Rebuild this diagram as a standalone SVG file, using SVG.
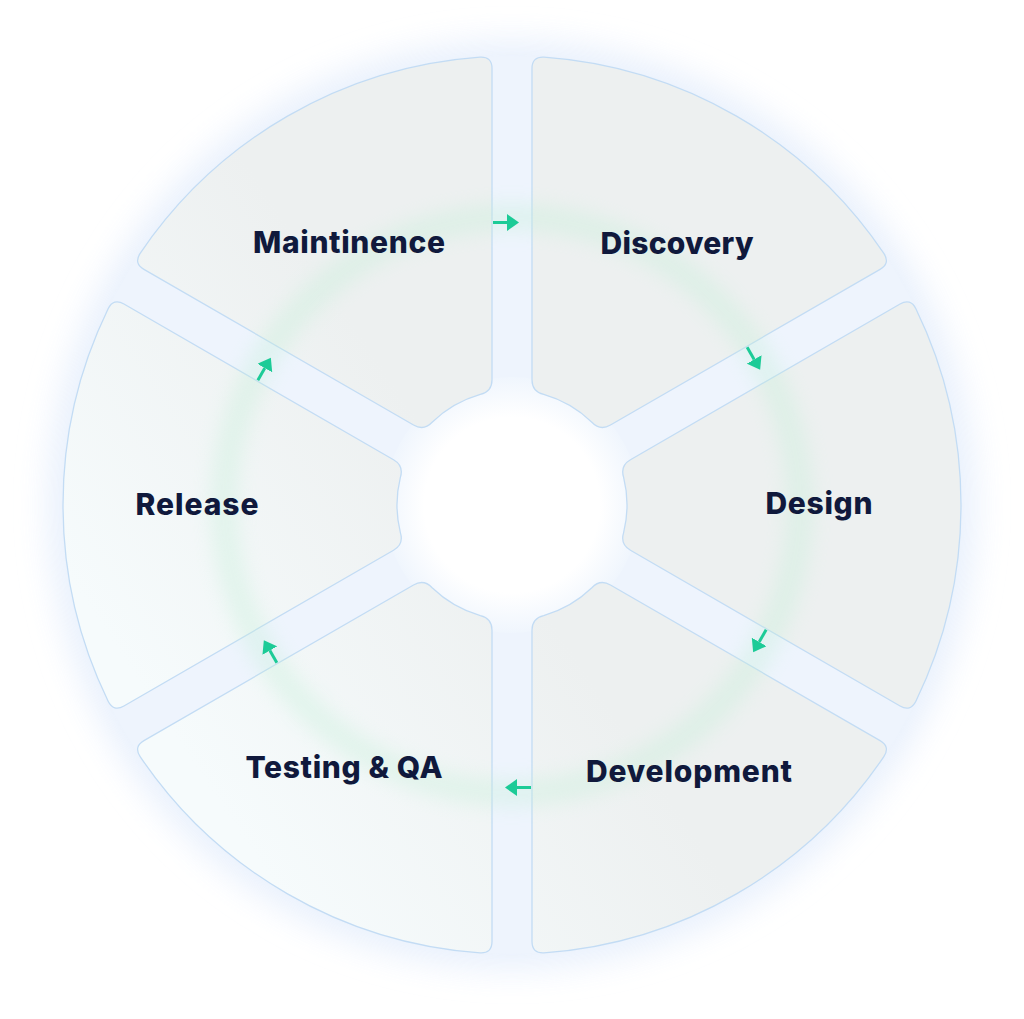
<svg xmlns="http://www.w3.org/2000/svg" width="1024" height="1019" viewBox="0 0 1024 1019">
<style>
.seg{fill:url(#segfill);stroke:#c3dcf4;stroke-width:1.3}
.lbl{font-family:Inter,"Liberation Sans",Arial,sans-serif;font-weight:800;font-size:30px;fill:#10193c;text-anchor:middle}
.arr{stroke:#1ccb97;stroke-width:3;fill:none;marker-end:url(#head)}
</style>
<defs>
<filter id="blur16" x="-20%" y="-20%" width="140%" height="140%"><feGaussianBlur stdDeviation="16"/></filter>
<filter id="blur10" x="-20%" y="-20%" width="140%" height="140%"><feGaussianBlur stdDeviation="10"/></filter>
<linearGradient id="segfill" gradientUnits="userSpaceOnUse" x1="600" y1="400" x2="150" y2="700">
<stop offset="0" stop-color="#edf0f0"/>
<stop offset="0.3" stop-color="#edf0f0"/>
<stop offset="1" stop-color="#f6fbfc"/>
</linearGradient>
<radialGradient id="hole" cx="512" cy="505" r="135" gradientUnits="userSpaceOnUse">
<stop offset="0" stop-color="#ffffff"/>
<stop offset="0.65" stop-color="#ffffff"/>
<stop offset="1" stop-color="#edf4fd"/>
</radialGradient>
<marker id="head" viewBox="0 0 12 17" markerWidth="12" markerHeight="17" refX="0" refY="8.5" orient="auto" markerUnits="userSpaceOnUse">
<path d="M0,0 L12,8.5 L0,17 Z" fill="#1ccb97"/>
</marker>
</defs>
<rect width="1024" height="1019" fill="#ffffff"/>
<g id="background">
<circle cx="512" cy="505" r="464" fill="#e5eefc" opacity="0.85" filter="url(#blur16)"/>
<circle cx="512" cy="505" r="449" fill="#eef4fd"/>
<circle cx="512" cy="505" r="128" fill="url(#hole)"/>
</g>
<g id="node-maintinence">
<path class="seg" d="M413.54,425.06 L143.94,269.41 Q133.54,263.41 140.15,253.34 A449,449 0 0 1 479.97,57.14 Q492,56.45 492,68.45 L492,379.76 Q492,391.76 480.30,394.46 A115,115 0 0 0 432.12,422.28 Q423.93,431.06 413.54,425.06 Z"/>
</g>
<g id="node-discovery">
<path class="seg" d="M610.46,425.06 L880.06,269.41 Q890.46,263.41 883.85,253.34 A449,449 0 0 0 544.03,57.14 Q532,56.45 532,68.45 L532,379.76 Q532,391.76 543.70,394.46 A115,115 0 0 1 591.88,422.28 Q600.07,431.06 610.46,425.06 Z"/>
</g>
<g id="node-design">
<path class="seg" d="M630.46,459.70 L900.06,304.04 Q910.45,298.04 915.87,308.80 A449,449 0 0 1 915.87,701.20 Q910.45,711.96 900.06,705.96 L630.46,550.30 Q620.07,544.30 623.58,532.82 A115,115 0 0 0 623.58,477.18 Q620.07,465.70 630.46,459.70 Z"/>
</g>
<g id="node-development">
<path class="seg" d="M610.46,584.94 L880.06,740.59 Q890.46,746.59 883.85,756.66 A449,449 0 0 1 544.03,952.86 Q532,953.55 532,941.55 L532,630.24 Q532,618.24 543.70,615.54 A115,115 0 0 0 591.88,587.72 Q600.07,578.94 610.46,584.94 Z"/>
</g>
<g id="node-testing">
<path class="seg" d="M413.54,584.94 L143.94,740.59 Q133.54,746.59 140.15,756.66 A449,449 0 0 0 479.97,952.86 Q492,953.55 492,941.55 L492,630.24 Q492,618.24 480.30,615.54 A115,115 0 0 1 432.12,587.72 Q423.93,578.94 413.54,584.94 Z"/>
</g>
<g id="node-release">
<path class="seg" d="M393.54,550.30 L123.94,705.96 Q113.55,711.96 108.13,701.20 A449,449 0 0 1 108.13,308.80 Q113.55,298.04 123.94,304.04 L393.54,459.70 Q403.93,465.70 400.42,477.18 A115,115 0 0 0 400.42,532.82 Q403.93,544.30 393.54,550.30 Z"/>
</g>
<g id="green-ring" opacity="0.38">
<circle cx="512" cy="505" r="288" fill="none" stroke="#c4efd8" stroke-width="26" filter="url(#blur10)"/>
</g>
<g id="labels">
<text class="lbl" x="349" y="253" textLength="192">Maintinence</text>
<text class="lbl" x="677" y="254" textLength="153">Discovery</text>
<text class="lbl" x="819" y="514" textLength="107">Design</text>
<text class="lbl" x="689" y="782" textLength="206">Development</text>
<text class="lbl" x="344" y="778" textLength="197">Testing &amp; QA</text>
<text class="lbl" x="197" y="515" textLength="123">Release</text>
</g>
<g id="connectors">
<line class="arr" x1="493" y1="222.5" x2="507" y2="222.5"/>
<line class="arr" x1="493" y1="222.5" x2="507" y2="222.5" transform="rotate(60 512 505)"/>
<line class="arr" x1="493" y1="222.5" x2="507" y2="222.5" transform="rotate(120 512 505)"/>
<line class="arr" x1="493" y1="222.5" x2="507" y2="222.5" transform="rotate(180 512 505)"/>
<line class="arr" x1="493" y1="222.5" x2="507" y2="222.5" transform="rotate(240 512 505)"/>
<line class="arr" x1="493" y1="222.5" x2="507" y2="222.5" transform="rotate(300 512 505)"/>
</g>
</svg>
